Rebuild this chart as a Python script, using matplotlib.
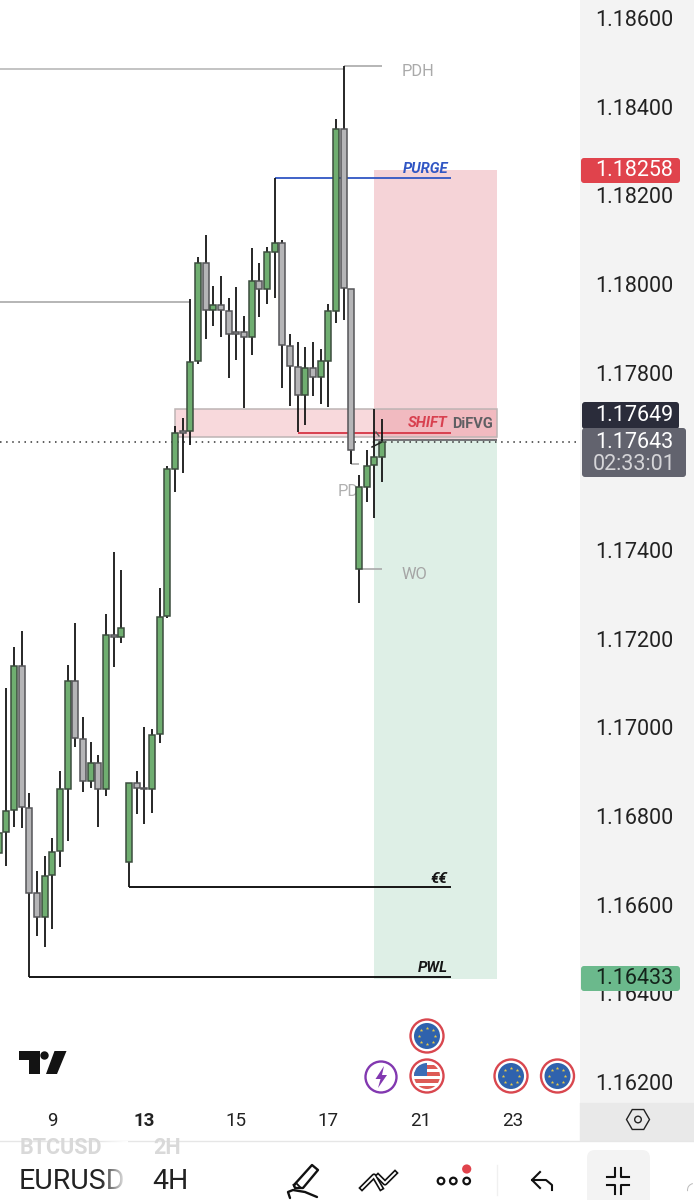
import numpy as np
import matplotlib
matplotlib.use('Agg')
import matplotlib.pyplot as plt
from matplotlib.patches import Rectangle, FancyBboxPatch, Circle, Polygon, RegularPolygon, Wedge

plt.rcParams['font.family'] = ['Roboto', 'DejaVu Sans']

# EURUSD 4H candles
opens = [1.16717,1.16764,1.16814,1.17138,1.16818,1.16626,1.16572,1.16667,1.16721,1.16861,
         1.17105,1.16974,1.16879,1.16920,1.16861,1.17208,1.17204,1.16696,1.16874,1.16863,
         1.16861,1.16985,1.17251,1.17583,1.17668,1.17668,1.17826,1.18047,1.17941,1.17953,
         1.17939,1.17892,1.17892,1.17880,1.18007,1.17989,1.18072,1.18092,1.17860,1.17813,
         1.17750,1.17811,1.17790,1.17826,1.17939,1.18350,1.17989,1.17357,1.17542,1.17592,1.17610]
closes = [1.16762,1.16811,1.17138,1.16820,1.16626,1.16572,1.16665,1.16719,1.16861,1.17105,
          1.16976,1.16879,1.16920,1.16861,1.17208,1.17204,1.17224,1.16874,1.16863,1.16861,
          1.16983,1.17249,1.17583,1.17664,1.17664,1.17824,1.18047,1.17941,1.17953,1.17941,
          1.17887,1.17887,1.17880,1.18007,1.17989,1.18072,1.18092,1.17862,1.17815,1.17750,
          1.17811,1.17790,1.17826,1.17939,1.18350,1.17991,1.17626,1.17542,1.17589,1.17610,1.17644]
highs = [1.16791,1.17089,1.17181,1.17217,1.16852,1.16676,1.16710,1.16750,1.16902,1.17141,
         1.17235,1.17023,1.16967,1.16938,1.17256,1.17396,1.17355,1.16874,1.16902,1.17001,
         1.16996,1.17314,1.17589,1.17680,1.17698,1.17966,1.18061,1.18111,1.17995,1.18018,
         1.17968,1.17993,1.17928,1.18081,1.18047,1.18083,1.18239,1.18099,1.17887,1.17869,
         1.17858,1.17869,1.17853,1.17955,1.18372,1.18492,1.17989,1.17569,1.17626,1.17718,1.17696]
lows = [1.16705,1.16687,1.16775,1.16773,1.16437,1.16529,1.16505,1.16545,1.16685,1.16744,
        1.16956,1.16854,1.16863,1.16775,1.16845,1.17136,1.17190,1.16640,1.16805,1.16782,
        1.16807,1.16965,1.17247,1.17531,1.17574,1.17637,1.17820,1.17876,1.17905,1.17880,
        1.17788,1.17829,1.17720,1.17840,1.17926,1.17955,1.17968,1.17765,1.17725,1.17666,
        1.17682,1.17747,1.17729,1.17723,1.17912,1.17919,1.17594,1.17280,1.17508,1.17472,1.17553]

price_ticks = [1.186,1.184,1.182,1.180,1.178,1.174,1.172,1.170,1.168,1.166,1.164,1.162]
date_pos = [7,19,31,43,55,67]
date_labels = ['9','13','15','17','21','23']

stop_price = 1.18258
entry_price = 1.17649
last_price = 1.17643
target_price = 1.16433

green = '#6fae70'
gray = '#b5b5b7'

fig = plt.figure(figsize=(6.94,12),dpi=100,facecolor='white')
fig.patches.append(Rectangle((580/694,97/1200),114/694,1103/1200,transform=fig.transFigure,color='#f3f3f3',zorder=-2))
fig.patches.append(Rectangle((580/694,60/1200),114/694,37/1200,transform=fig.transFigure,color='#e9e9e9',zorder=-2))

ax = fig.add_axes([0,97/1200,580/694,1103/1200])
ax.set_xlim(0.17,75.84)
ax.set_ylim(1.161527,1.186406)
for s in ax.spines.values():
    s.set_visible(False)

# long/short position zones
ax.add_patch(Rectangle((49,entry_price),16,stop_price-entry_price,color='#f5d3d7',lw=0,zorder=1))
ax.add_patch(Rectangle((49,target_price),16,entry_price-target_price,color='#deefe6',lw=0,zorder=1))
# FVG box
ax.add_patch(Rectangle((23,1.17655),42,1.17718-1.17655,facecolor='#e8828c',alpha=0.3,edgecolor='none',zorder=1.5))
ax.add_patch(Rectangle((23,1.17655),42,1.17718-1.17655,fill=False,edgecolor='#bdb4b4',lw=1.1,zorder=1.6))
ax.hlines(entry_price,49,65,color='#6a6a6e',lw=1.3,zorder=1.7)
ax.axhline(last_price,color='#333333',lw=1.1,ls=(0,(1,3)),zorder=2)

# drawn levels
ax.hlines(1.18486,-1,45,color='#b9b9b9',lw=1.2,zorder=2)
ax.hlines(1.18492,45,50,color='#a9a9a9',lw=1.2,zorder=2)
ax.hlines(1.17959,-1,25,color='#a9a9a9',lw=1.2,zorder=2)
ax.hlines(1.18239,36,59,color='#3056c4',lw=1.3,zorder=2)
ax.hlines(1.17664,39,59,color='#d8404f',lw=1.4,zorder=2)
ax.hlines(1.17357,47,50,color='#a9a9a9',lw=1.2,zorder=2)
ax.hlines(1.17594,46,47,color='#a9a9a9',lw=1.2,zorder=2)
ax.hlines(1.16640,17,59,color='#151515',lw=1.4,zorder=2)
ax.hlines(1.16437,4,59,color='#151515',lw=1.4,zorder=2)

# candles
idx = np.arange(len(opens))
ax.vlines(idx,lows,highs,color='#151515',lw=1.3,zorder=3)
for i in idx:
    o,c = opens[i],closes[i]
    col = green if c >= o else gray
    ec = '#3c4d3e' if c >= o else '#555558'
    ax.bar(i,abs(c-o),bottom=min(o,c),width=0.78,color=col,edgecolor=ec,lw=1.1,zorder=4)

# labels on the levels
ax.text(52.6,1.18479,'PDH',color='#aaaaaa',fontsize=11.8,va='center',zorder=5)
ax.text(52.6,1.17345,'WO',color='#a5a5a5',fontsize=11.8,va='center',zorder=5)
ax.text(44.2,1.17532,'PD',color='#b0b0b0',fontsize=11.8,va='center',zorder=2.5)
ax.text(58.6,1.18260,'PURGE',color='#3056c4',fontsize=10.6,fontweight='bold',style='italic',ha='right',va='center',zorder=5)
ax.text(58.6,1.17687,'SHIFT',color='#d8404f',fontsize=10.6,fontweight='bold',style='italic',ha='right',va='center',zorder=5)
ax.text(59.1,1.17685,'DiFVG',color='#5f5f63',fontsize=10.5,fontweight='bold',va='center',zorder=5)
ax.text(58.6,1.16657,'€€',color='#151515',fontsize=11,fontweight='bold',style='italic',ha='right',va='center',zorder=5)
ax.text(58.6,1.16457,'PWL',color='#151515',fontsize=10.8,fontweight='bold',style='italic',ha='right',va='center',zorder=5)

ax.yaxis.tick_right()
ax.set_yticks(price_ticks)
ax.set_yticklabels(['%.5f' % p for p in price_ticks],fontsize=15.5,color='#222222')
ax.set_xticks(date_pos)
ax.set_xticklabels(date_labels,fontsize=13.5,color='#222222')
ax.get_xticklabels()[1].set_fontweight('bold')
ax.tick_params(axis='both',length=0)
ax.tick_params(axis='y',pad=11)
ax.tick_params(axis='x',pad=6.5)

# everything below is app chrome, drawn in picture pixels
ov = fig.add_axes([0,0,1,1],zorder=5)
ov.set_facecolor('none')
ov.axis('off')
ov.set_xlim(0,694)
ov.set_ylim(1200,0)

def badge(x0,y0,x1,y1,col):
    ov.add_patch(FancyBboxPatch((x0+3,y0+3),x1-x0-6,y1-y0-6,boxstyle='round,pad=3',fc=col,ec='none'))

badge(581,158,680,183,'#e0434c')
ov.text(634,170.5,'1.18258',color='white',fontsize=15.5,ha='center',va='center')
badge(582,402,679,429,'#2a2c3a')
ov.text(634,415.5,'1.17649',color='white',fontsize=15.5,ha='center',va='center')
badge(582,428,686,477,'#62636e')
ov.text(634,443,'1.17643',color='white',fontsize=15.5,ha='center',va='center')
ov.text(634,465,'02:33:01',color='#d5d5d8',fontsize=15.5,ha='center',va='center')
badge(581,966,680,991,'#6bb98c')
ov.text(634,978.5,'1.16433',color='#14241b',fontsize=15.5,ha='center',va='center')

# small marks near last candle
ov.plot([372,381],[447,442.5],color='#222222',lw=1.1)
ov.plot([376,379],[432,436],color='#555555',lw=1)

# tradingview logo
ov.add_patch(Polygon([(18.6,1051),(40,1051),(40,1074),(29.5,1074),(29.5,1060),(18.6,1060)],fc='#131313',ec='none'))
ov.add_patch(Circle((44.5,1055.5),4.2,fc='#131313',ec='none'))
ov.add_patch(Polygon([(54.5,1051),(66.5,1051),(57,1074),(46,1074)],fc='#131313',ec='none'))

# event bubbles
def eu(cx,cy):
    ov.add_patch(Circle((cx,cy),16.5,fc='white',ec='#d9474f',lw=1.7))
    ov.add_patch(Circle((cx,cy),13,fc='#2f62ad',ec='none'))
    a = np.arange(8)*np.pi/4
    ov.scatter(cx+8*np.cos(a),cy+8*np.sin(a),s=7,marker='*',color='#e5c84a',lw=0)

def us(cx,cy):
    ov.add_patch(Circle((cx,cy),16.5,fc='white',ec='#d9474f',lw=1.7))
    clip = Circle((cx,cy),13,transform=ov.transData)
    for k in range(4):
        r = ov.add_patch(Rectangle((cx-13,cy-11+k*7),26,3.5,fc='#dd5a55',ec='none'))
        r.set_clip_path(clip)
    r = ov.add_patch(Rectangle((cx-13,cy-13),13,13,fc='#3b6cb5',ec='none'))
    r.set_clip_path(clip)

eu(427,1036)
us(427,1076)
eu(511,1076)
eu(557.5,1076)
ov.add_patch(Circle((381,1077),15.5,fc='white',ec='#8238b0',lw=1.7))
ov.add_patch(Polygon([(384,1066),(375.5,1079),(380.5,1079),(378,1088),(387,1075),(382,1075)],fc='#8238b0',ec='none'))

# settings hexagon
ov.add_patch(RegularPolygon((638,1119.5),6,radius=11.5,orientation=np.pi/2,fc='none',ec='#222222',lw=1))
ov.add_patch(Circle((638,1119.5),3.3,fc='none',ec='#222222',lw=1))

# bottom toolbar
ov.plot([0,694],[1140.5,1140.5],color='#e6e6e6',lw=1,zorder=1)
clip_box = Rectangle((0,1141),694,59,transform=ov.transData)
t1 = ov.text(20,1148,'BTCUSD',color='#d9d9d9',fontsize=15.5,fontweight='bold',va='center')
t2 = ov.text(153,1148,'2H',color='#d9d9d9',fontsize=15.5,fontweight='bold',va='center')
t1.set_clip_path(clip_box)
t2.set_clip_path(clip_box)
ov.text(19,1181.5,'EURUSD',color='#222222',fontsize=20.5,va='center',zorder=2)
ov.text(152,1181.5,'4H',color='#222222',fontsize=20.5,va='center',zorder=2)
fade = np.ones((1,40,4))
fade[0,:,3] = np.linspace(0,1,40)
ov.imshow(fade,extent=(100,128,1200,1141),aspect='auto',zorder=3)
ov.set_xlim(0,694)
ov.set_ylim(1200,0)

# pen
ov.plot([294,312,318,303,295,294],[1185,1165,1170,1188,1188,1185],color='#111111',lw=1.7,zorder=2,solid_joinstyle='round')
ov.plot([296,300],[1183,1187],color='#111111',lw=1.3,zorder=2)
ov.plot([290,288,293,305,317],[1198,1192,1190,1192,1197],color='#111111',lw=1.7,zorder=2,solid_capstyle='round')
# trend icon
for lw,col in [(3.8,'#111111'),(1.4,'white')]:
    ov.plot([362,374,381],[1188,1176,1188],color=col,lw=lw,zorder=2+lw*0-(0 if col=='white' else 0.1))
    ov.plot([378,385,395],[1176,1183,1173],color=col,lw=lw,zorder=2+lw*0-(0 if col=='white' else 0.1))
# dots
for cx in [441,453.3,466.7]:
    ov.add_patch(Circle((cx,1181),3.3,fc='none',ec='#111111',lw=1.6,zorder=2))
ov.add_patch(Circle((466.7,1169),4.6,fc='#e0434c',ec='none',zorder=2))
ov.plot([497.5,497.5],[1165,1195],color='#f0f0f0',lw=1,zorder=2)
# undo
ov.plot([540,532,540],[1172,1180,1188],color='#111111',lw=1.5,zorder=2)
ov.plot([532,546,552,552],[1180,1180,1185,1190],color='#111111',lw=1.5,zorder=2)
# collapse button
ov.add_patch(FancyBboxPatch((595,1158),47,60,boxstyle='round,pad=8',fc='#f3f3f3',ec='none',zorder=1))
for sx,sy in [(-1,-1),(1,-1),(-1,1),(1,1)]:
    ov.plot([618.5+sx*11,618.5+sx*3,618.5+sx*3],[1180.5+sy*4,1180.5+sy*4,1180.5+sy*13],color='#111111',lw=1.5,zorder=2)
ov.add_patch(Wedge((694,1190),7,170,260,width=1,fc='#bbbbbb',ec='none',zorder=2))

fig.savefig('out.png',dpi=100)
